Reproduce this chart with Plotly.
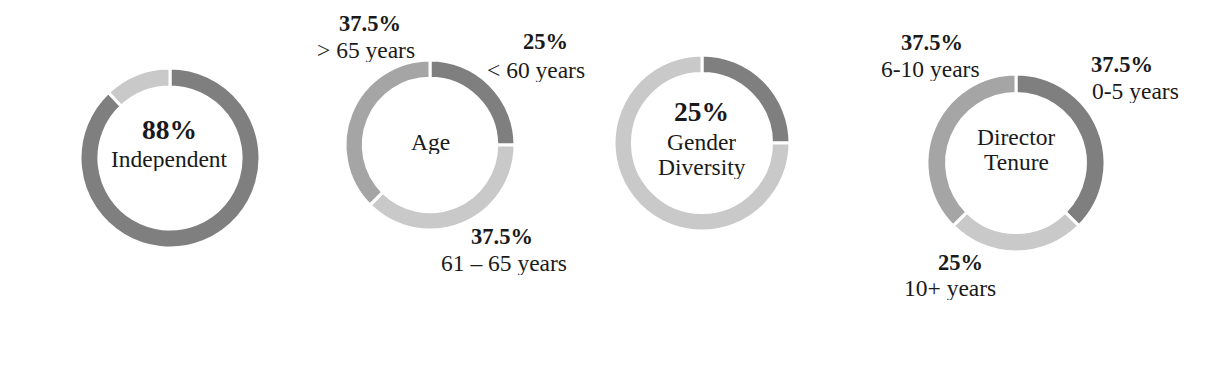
import plotly.graph_objects as go

W, H = 1220, 382

# ---- data ----
indep_labels = ["Independent", "Non-independent"]
indep_values = [88, 12]

age_labels = ["< 60 years", "61 – 65 years", "> 65 years"]
age_values = [25, 37.5, 37.5]

gender_labels = ["Women", "Men"]
gender_values = [25, 75]

tenure_labels = ["0-5 years", "10+ years", "6-10 years"]
tenure_values = [37.5, 25, 37.5]

DARK, MED, LIGHT = "#7f7f7f", "#a5a5a5", "#c9c9c9"
SERIF = "Liberation Serif, Times New Roman, serif"
TXT = "#1a1a1a"

# layout: (center x, center y, outer radius) in pixels
pies = [
    (indep_labels, indep_values, [DARK, LIGHT], (170, 158, 90), 0.79),
    (age_labels, age_values, [DARK, LIGHT, MED], (430, 145, 85), 0.785),
    (gender_labels, gender_values, [DARK, LIGHT], (702, 143, 88), 0.79),
    (tenure_labels, tenure_values, [DARK, LIGHT, MED], (1016, 163, 89), 0.78),
]

fig = go.Figure()
for labels, values, colors, (cx, cy, r), hole in pies:
    fig.add_trace(go.Pie(
        labels=labels, values=values, sort=False, direction="clockwise",
        rotation=0, hole=hole, textinfo="none", hoverinfo="label+percent",
        marker=dict(colors=colors, line=dict(color="white", width=3)),
        domain=dict(x=[(cx - r) / W, (cx + r) / W],
                    y=[1 - (cy + r) / H, 1 - (cy - r) / H]),
        showlegend=False,
    ))

BIG, LBL, REG = 27.5, 22.5, 23.5
# text annotations: (text, x, y, size, bold)
texts = [
    ("88%", 170, 129, BIG, True),
    ("Independent", 170, 159, REG, False),
    ("Age", 430, 142, REG, False),
    ("37.5%", 370, 23, LBL, True),
    ("> 65 years", 366, 50, REG, False),
    ("25%", 545, 41, LBL, True),
    ("< 60 years", 536, 70, REG, False),
    ("37.5%", 502, 236, LBL, True),
    ("61 – 65 years", 504, 263, REG, False),
    ("25%", 702, 111, BIG, True),
    ("Gender", 702, 142, REG, False),
    ("Diversity", 702, 167, REG, False),
    ("Director", 1016, 137, REG, False),
    ("Tenure", 1016, 162, REG, False),
    ("37.5%", 932, 42, LBL, True),
    ("6-10 years", 931, 69, REG, False),
    ("37.5%", 1122, 64, LBL, True),
    ("0-5 years", 1135, 91, REG, False),
    ("25%", 960, 262, LBL, True),
    ("10+ years", 950, 288, REG, False),
]
for t, x, y, s, b in texts:
    fig.add_annotation(
        text=f"<b>{t}</b>" if b else t, x=x / W, y=1 - y / H,
        xref="paper", yref="paper", xanchor="center", yanchor="middle",
        showarrow=False, height=round(s),
        font=dict(family=SERIF, size=s, color=TXT),
    )

fig.update_layout(
    width=W, height=H, margin=dict(l=0, r=0, t=0, b=0),
    paper_bgcolor="white", plot_bgcolor="white",
)
fig.write_html("out.html", config={"displayModeBar": False},
               post_script="document.body.style.margin='0';")
